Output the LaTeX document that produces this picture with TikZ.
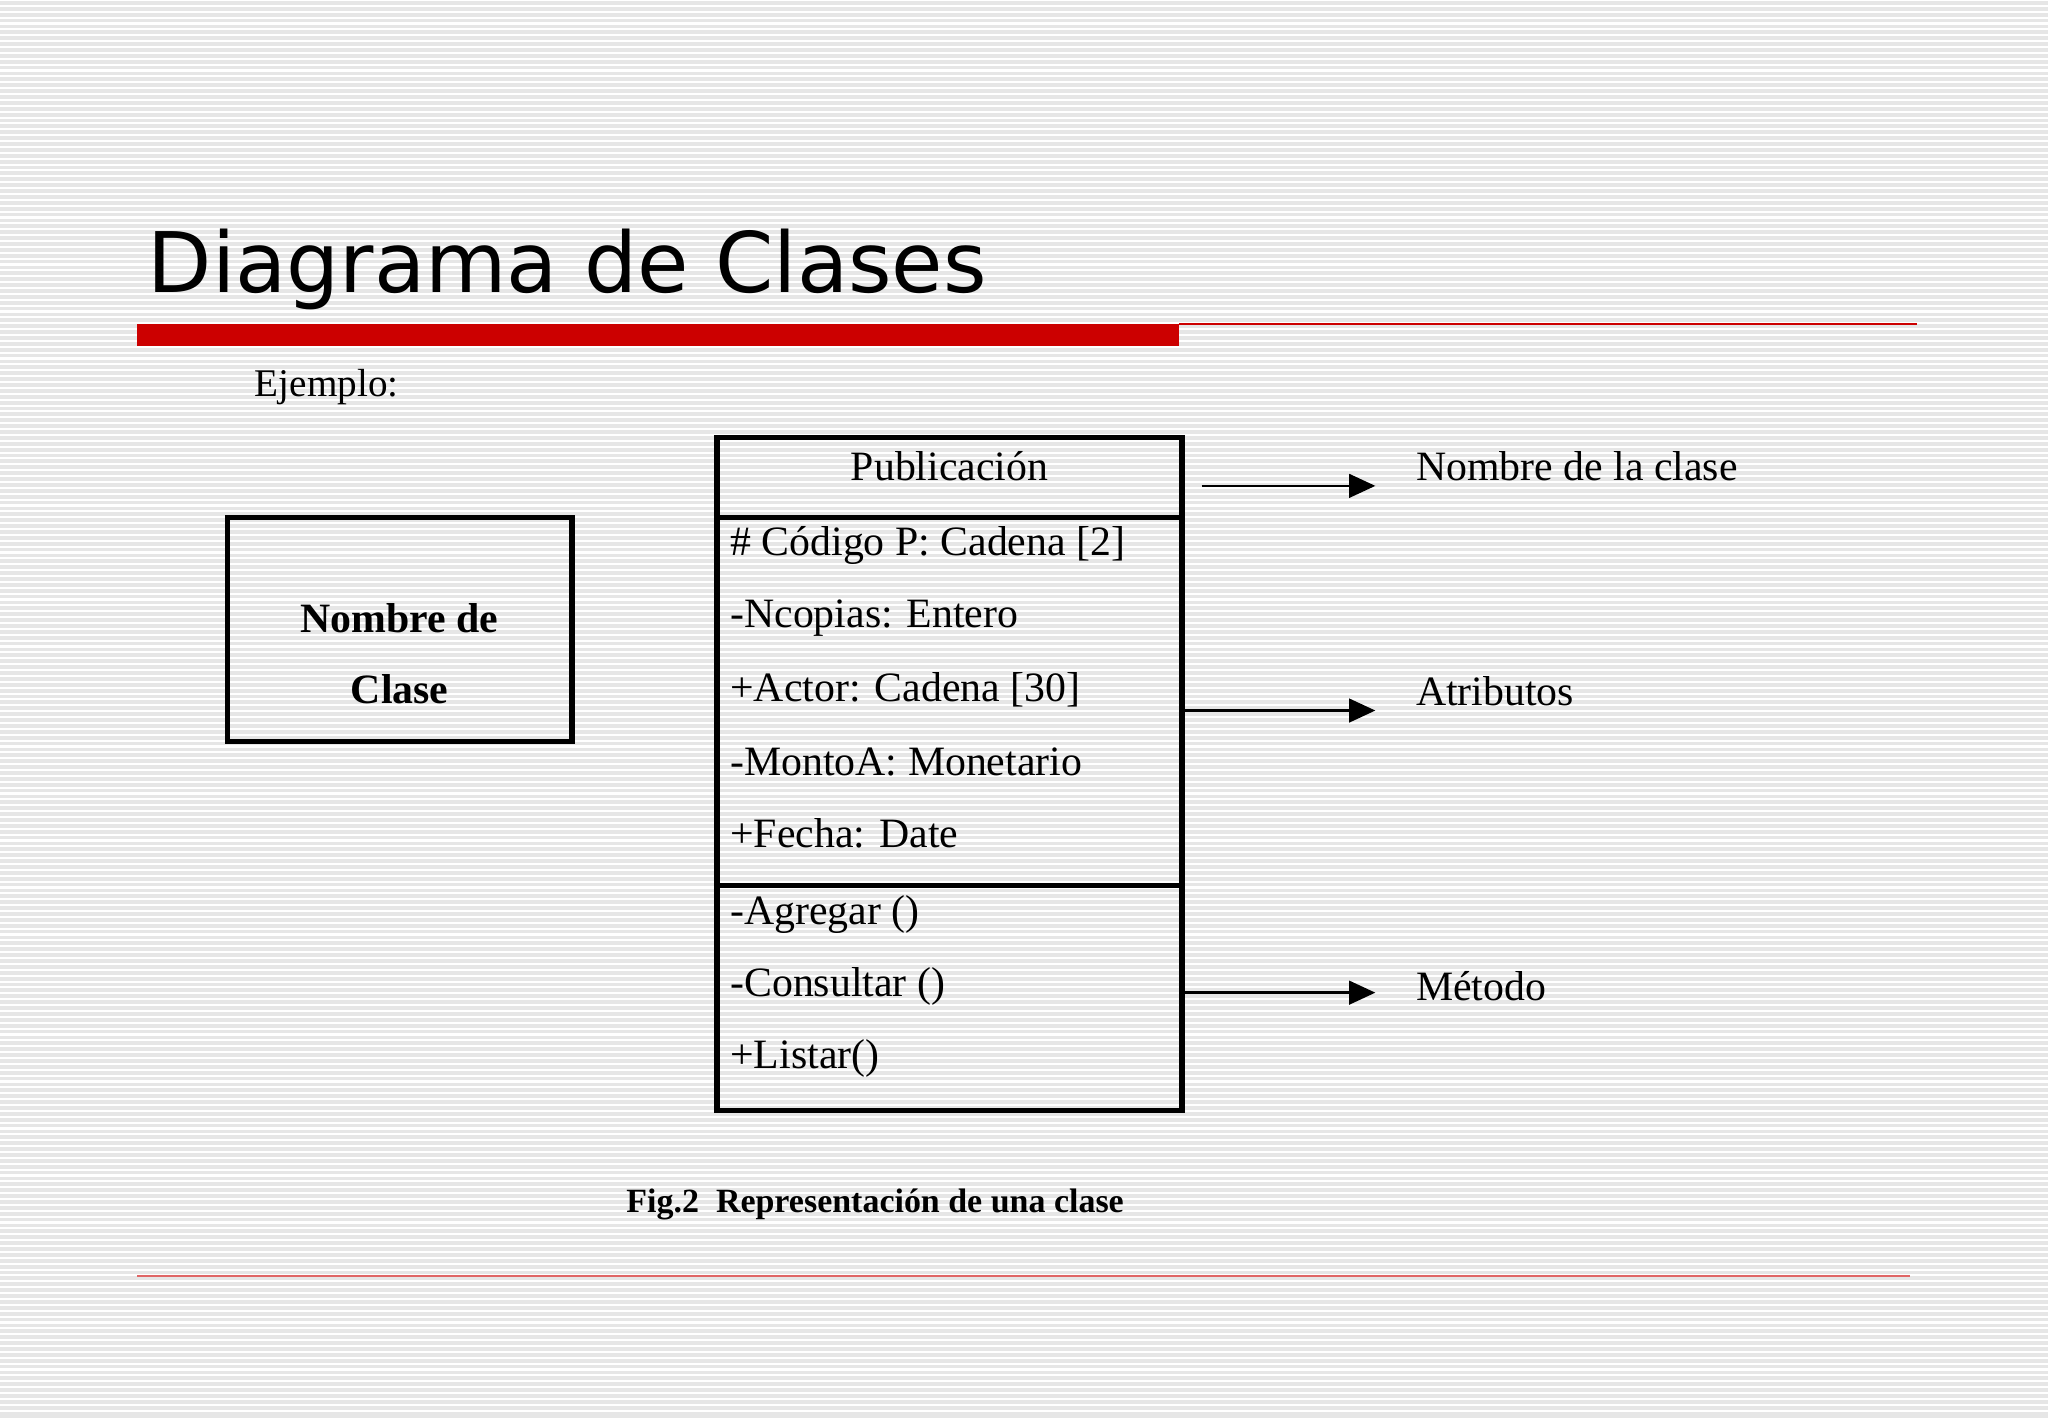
\documentclass[tikz,border=0pt]{standalone}
\usepackage{fontspec}
\setmainfont{Liberation Serif}
\newfontfamily\titlefont{DejaVu Sans}
\usetikzlibrary{arrows.meta}
\definecolor{bg}{HTML}{E6E6E6}
\definecolor{redbar}{HTML}{CC0000}
\tikzset{
  txt/.style={anchor=west,inner sep=0pt,font=\fontsize{32}{36}\selectfont},
  lbl/.style={anchor=west,inner sep=0pt,font=\fontsize{32}{36}\selectfont},
  box/.style={draw=black,line width=4pt},
  conn/.style={line width=2pt,-{Triangle[length=20pt,width=18pt]}}
}
\begin{document}
\begin{tikzpicture}[x=1pt,y=-1pt]
\useasboundingbox (0,0) rectangle (1568,1086);
\fill[bg] (0,0) rectangle (1568,1086);
\foreach \i in {0,...,240} { \draw[white,line width=1.6pt] (0,{\i*4.5}) -- (1568,{\i*4.5}); }
\node[anchor=base west,inner sep=0pt,font=\titlefont\fontsize{64}{70}\selectfont] (title) at (113,224) {Diagrama de Clases};
\fill[redbar] (105,248) rectangle (903,265);
\draw[redbar,line width=1pt] (903,248) -- (1468,248);
\draw[redbar!60,line width=1pt] (105,977) -- (1462,977);
\node[txt,font=\fontsize{30}{34}\selectfont] (ej) at (195,296) {Ejemplo:};
\draw[box] (174,396) rectangle (438,568);
\node[font=\bfseries\fontsize{32}{36}\selectfont,inner sep=0pt] (n1) at (306,473) {Nombre de};
\node[font=\bfseries\fontsize{32}{36}\selectfont,inner sep=0pt] (n2) at (306,528) {Clase};
\draw[box] (549,335) rectangle (905,850);
\draw[box] (549,396) -- (905,396);
\draw[box] (549,678) -- (905,678);
\node[font=\fontsize{32}{36}\selectfont,inner sep=0pt] (pub) at (727,357) {Publicación};
\node[txt] (a1) at (559,418) {\# Código P: Cadena [2]};
\node[txt] (a2) at (559,473) {-Ncopias: Entero};
\node[txt] (a3) at (559,528) {+Actor: Cadena [30]};
\node[txt] (a4) at (559,583) {-MontoA: Monetario};
\node[txt] (a5) at (559,638) {+Fecha: Date};
\node[txt] (m1) at (559,700) {-Agregar ()};
\node[txt] (m2) at (559,755) {-Consultar ()};
\node[txt] (m3) at (559,810) {+Listar()};
\coordinate (s1) at (920,372); \coordinate (e1) at (1053,372);
\coordinate (s2) at (905,544); \coordinate (e2) at (1053,544);
\coordinate (s3) at (905,760); \coordinate (e3) at (1053,760);
\draw[conn] (s1) -- (e1);
\draw[conn] (s2) -- (e2);
\draw[conn] (s3) -- (e3);
\node[lbl] (l1) at (1084,357) {Nombre de la clase};
\node[lbl] (l2) at (1084,529) {Atributos};
\node[lbl] (l3) at (1084,755) {Método};
\node[font=\bfseries\fontsize{26}{30}\selectfont,inner sep=0pt] (cap) at (670,922) {Fig.2\ \ Representación de una clase};
\end{tikzpicture}
\end{document}
